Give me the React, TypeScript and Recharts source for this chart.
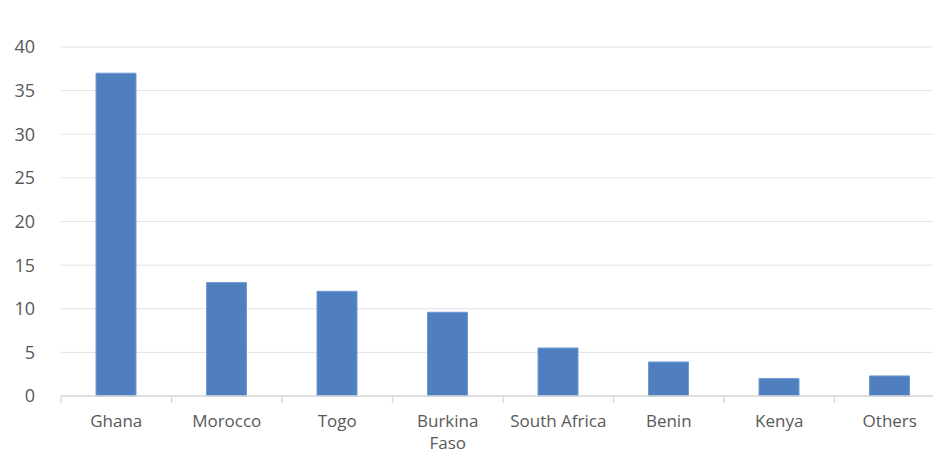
import { BarChart, Bar, XAxis, YAxis, CartesianGrid } from 'recharts';

const countries = ['Ghana', 'Morocco', 'Togo', 'Burkina\nFaso', 'South Africa', 'Benin', 'Kenya', 'Others'];
const shares = [37, 13, 12, 9.6, 5.5, 3.9, 2, 2.3];
const yTicks = [0, 5, 10, 15, 20, 25, 30, 35, 40];

const data = countries.map((name, i) => ({ name, value: shares[i] }));

const TEXT = '#595959';
const AXIS = '#d9d9d9';

const CountryTick = ({ x, y, payload }: any) => {
  const half = payload.offset || 0;
  const lines = String(payload.value).split('\n');
  return (
    <g>
      <line x1={x - half} y1={y} x2={x - half} y2={y + 7} stroke={AXIS} strokeWidth={1.5} />
      <text x={x} y={y + 31} textAnchor="middle" fill={TEXT} fontSize={17} fontFamily="'Open Sans', sans-serif">
        {lines.map((l, i) => (
          <tspan key={i} x={x} dy={i === 0 ? 0 : 22}>{l}</tspan>
        ))}
      </text>
    </g>
  );
};

export default function App() {
  return (
    <div style={{ position: 'absolute', left: 0, top: 0, width: 933, height: 454, overflow: 'hidden', background: '#fff' }}>
      <BarChart width={945} height={454} data={data} margin={{ top: 47, right: 0, left: 0, bottom: 0 }}>
        <CartesianGrid vertical={false} stroke="#e3e3e3" />
        <XAxis
          dataKey="name"
          interval={0}
          height={58}
          tickSize={0}
          tickMargin={0}
          tickLine={false}
          axisLine={{ stroke: AXIS, strokeWidth: 1.5 }}
          tick={<CountryTick />}
        />
        <YAxis
          domain={[0, 40]}
          ticks={yTicks}
          width={61}
          axisLine={false}
          tickLine={false}
          tickMargin={20}
          tick={{ fill: TEXT, fontSize: 18, fontFamily: "'Open Sans', sans-serif" }}
        />
        <Bar dataKey="value" fill="#4f7fbe" stroke="#6f9bd3" strokeWidth={1} barSize={40} isAnimationActive={false} />
      </BarChart>
    </div>
  );
}
